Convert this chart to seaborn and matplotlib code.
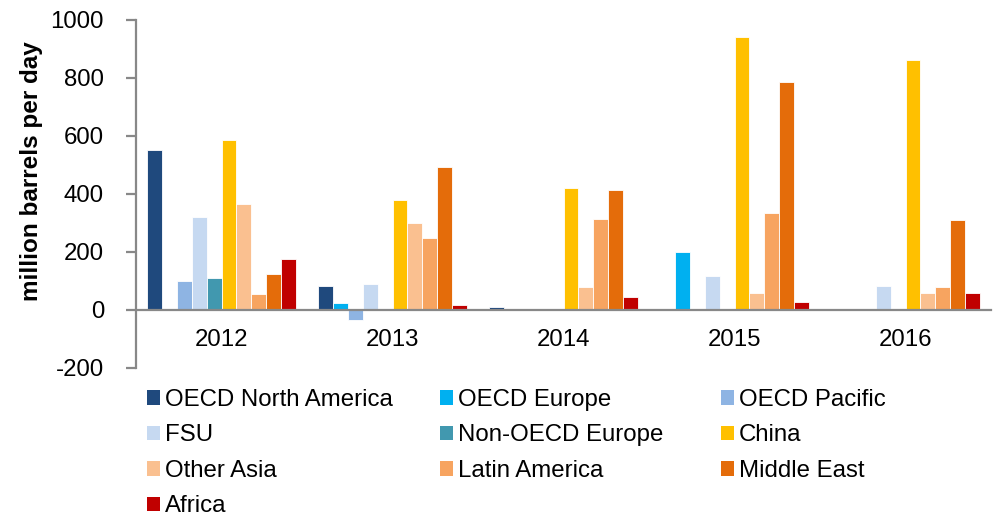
import numpy as np
import pandas as pd
import matplotlib
matplotlib.use("Agg")
import matplotlib.pyplot as plt
import seaborn as sns

years = ["2012", "2013", "2014", "2015", "2016"]
regions = ["OECD North America", "OECD Europe", "OECD Pacific", "FSU",
           "Non-OECD Europe", "China", "Other Asia", "Latin America",
           "Middle East", "Africa"]

oecd_north_america = [550, 84, 12, 0, 0]
oecd_europe = [0, 24, 0, 199, 0]
oecd_pacific = [100, -36, 0, 0, 0]
fsu = [322, 88, 0, 118, 84]
non_oecd_europe = [110, 0, 0, 0, 0]
china = [587, 379, 419, 941, 862]
other_asia = [366, 299, 80, 57, 57]
latin_america = [55, 248, 314, 334, 80]
middle_east = [124, 494, 415, 787, 310]
africa = [175, 18, 44, 29, 57]

series = [oecd_north_america, oecd_europe, oecd_pacific, fsu, non_oecd_europe,
          china, other_asia, latin_america, middle_east, africa]

colors = ["#1F497D", "#00B0F0", "#8EB4E3", "#C6D9F1", "#4198AF",
          "#FFC000", "#FAC090", "#F7A460", "#E46C0A", "#C00000"]

yticks = [-200, 0, 200, 400, 600, 800, 1000]

rows = []
for region, vals in zip(regions, series):
    for yr, v in zip(years, vals):
        rows.append({"year": yr, "region": region, "value": v})
df = pd.DataFrame(rows)

sns.set_style("white")
plt.rcParams["font.family"] = ["Liberation Sans", "DejaVu Sans"]
plt.rcParams["text.color"] = "black"
plt.rcParams["axes.labelcolor"] = "black"
plt.rcParams["xtick.labelcolor"] = "black"
plt.rcParams["ytick.labelcolor"] = "black"

fig = plt.figure(figsize=(9.94, 5.18), dpi=100)
ax = fig.add_axes([136 / 994, 1 - 368 / 518, (991 - 136) / 994, 348 / 518])

sns.barplot(data=df, x="year", y="value", hue="region", hue_order=regions,
            order=years, palette=colors, saturation=1, width=0.87, gap=0,
            dodge=True, edgecolor="#FFFFFF", linewidth=0.6, errorbar=None, ax=ax)

handles, labels = ax.get_legend_handles_labels()
if ax.legend_ is not None:
    ax.legend_.remove()

ax.set_xlim(-0.5, len(years) - 0.5)
ax.set_ylim(-200, 1000)
ax.set_yticks(yticks)
ax.set_yticklabels([str(t) for t in yticks])

# category labels at group centres, tick marks at group boundaries
ax.set_xticks(np.arange(len(years)))
ax.set_xticklabels(years)
ax.set_xticks(np.arange(len(years) + 1) - 0.5, minor=True)
ax.tick_params(axis="x", which="major", length=0, pad=14, labelsize=17.3,
               labelcolor="black")
ax.tick_params(axis="x", which="minor", length=7, width=1.6, color="#888888",
               direction="out", labelbottom=False)
ax.tick_params(axis="y", length=7, width=1.6, color="#888888", pad=16,
               direction="out", left=True, labelsize=17.3, labelcolor="black")

for side in ["top", "right"]:
    ax.spines[side].set_visible(False)
ax.spines["bottom"].set_position(("data", 0))
for side in ["left", "bottom"]:
    ax.spines[side].set_color("#888888")
    ax.spines[side].set_linewidth(1.6)

ax.set_xlabel("")
ax.set_ylabel("million barrels per day", fontsize=17.5, fontweight="bold",
              va="center", color="black")
ax.yaxis.set_label_coords(-0.122, 0.565)

# legend laid out in three fixed-width columns
col_x = [147 / 994, 440 / 994, 721 / 994]
for c in range(3):
    idx = list(range(c, len(regions), 3))
    leg = fig.legend([handles[i] for i in idx], [labels[i] for i in idx],
                     loc="upper left", bbox_to_anchor=(col_x[c], 1 - 389 / 518),
                     frameon=False, fontsize=17.3, handlelength=0.55,
                     handleheight=0.55, handletextpad=0.2, labelspacing=0.56,
                     borderpad=0, borderaxespad=0, labelcolor="black")
    for h in leg.legend_handles:
        h.set_edgecolor("none")

fig.savefig("out.png", dpi=100)
